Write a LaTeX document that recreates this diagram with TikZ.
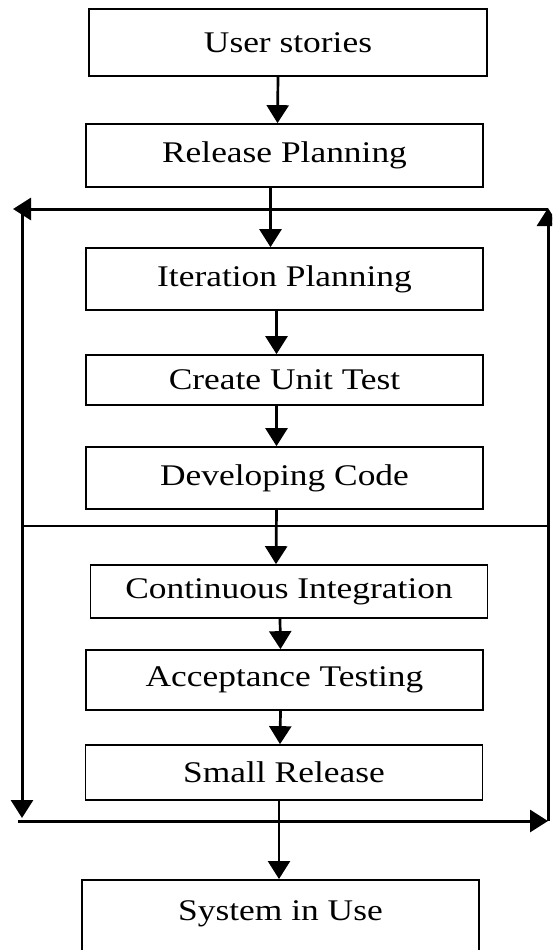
\documentclass[tikz,border=0pt]{standalone}
\usepackage{fontspec}
\setmainfont[FakeStretch=1.18]{Liberation Serif}
\usetikzlibrary{arrows.meta}

\begin{document}
\begin{tikzpicture}[
    % GLOBAL CFG
    x=1pt, y=-1pt,
    font=\fontsize{30}{36}\selectfont,
    >={Triangle[width=22pt,length=18pt]},
    % Styles
    stage/.style={% For the process boxes
        rectangle,
        draw,
        line width=1.7pt,
        minimum width=397pt,
        inner sep=0pt,
        },
    flow/.style={% Arrows between the boxes
        ->,
        line width=2.7pt,
        },
    loopline/.style={% The big loop round the iteration
        ->,
        line width=3pt,
        },
    divider/.style={% thin line across the loop
        line width=2pt,
        },
    ]

    % page size
    \path [use as bounding box, clip] (0,0) rectangle (552,950);

    % Draw the boxes
    \node [stage, minimum width=398pt, minimum height=67pt] (us) at (288,42.5) {User stories};
    \node [stage, minimum height=63pt] (rel) at (284.5,155.5) {Release Planning};
    \node [stage, minimum height=62pt] (itp) at (284.5,279) {Iteration Planning};
    \node [stage, minimum height=50pt] (cut) at (284.5,380) {Create Unit Test};
    \node [stage, minimum height=62pt] (dev) at (284.5,478) {Developing Code};
    \node [stage, minimum height=53pt] (ci) at (289,591.5) {Continuous Integration};
    \node [stage, minimum height=60pt] (acc) at (284.5,680) {Acceptance Testing};
    \node [stage, minimum height=55pt] (sr) at (284,772.5) {Small Release};
    \node [stage, anchor=north, text height=41pt, text depth=80pt] (sys) at (280.5,879) {System in Use};

    % Corners of the loop
    \coordinate (tl) at (22,209);
    \coordinate (tr) at (548,209);
    \coordinate (bl) at (22,821);
    \coordinate (br) at (548,821);
    \coordinate (ml) at (22,526);
    \coordinate (mr) at (548,526);

    % Drawing the loop
    \draw [loopline] (tr) -- ([xshift=-9pt]tl);
    \draw [loopline] ([yshift=-3pt]tl) -- ([yshift=3pt]bl);
    \draw [loopline] ([xshift=-4pt]bl) -- (br);
    \draw [loopline] (br) -- ([yshift=1pt]tr);
    \draw [divider] (ml) -- (mr);

    % Drawing arrows
    \draw [flow] ([xshift=-10pt]us.south) -- ([xshift=-7pt]rel.north);
    \draw [flow] ([xshift=-14pt]rel.south) -- ([xshift=-14pt]itp.north);
    \draw [flow] ([xshift=-8pt]itp.south) -- ([xshift=-8pt]cut.north);
    \draw [flow] ([xshift=-8pt]cut.south) -- ([xshift=-8pt]dev.north);
    \draw [flow] ([xshift=-8pt]dev.south) -- ([xshift=-13pt]ci.north);
    \draw [flow] ([xshift=-9pt]ci.south) -- ([xshift=-4pt]acc.north);
    \draw [flow] ([xshift=-4pt]acc.south) -- ([xshift=-4pt]sr.north);
    \draw [flow] ([xshift=-5pt]sr.south) -- ([xshift=-1.5pt]sys.north);

\end{tikzpicture}
\end{document}
